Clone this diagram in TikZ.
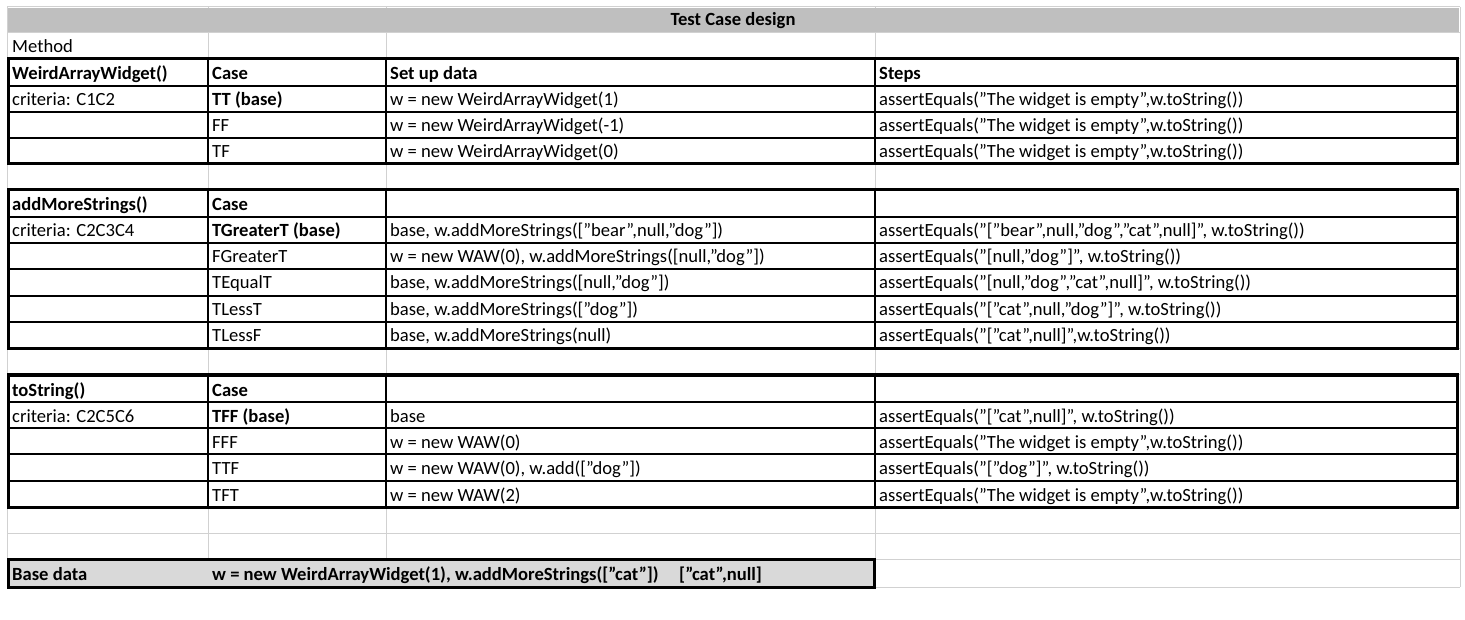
\documentclass[tikz,border=0pt]{standalone}
\usepackage{fontspec}
\setmainfont{Carlito}[Ligatures=ResetAll]
\newcommand{\qq}{\char34\relax}
\begin{document}
\begin{tikzpicture}[x=1pt,y=-1pt,
  cell/.style={anchor=base west,inner sep=0pt,yshift=-6pt,font=\fontsize{18.6}{20}\selectfont},
  bcell/.style={cell,font=\fontsize{18.6}{20}\selectfont\bfseries},
  grid/.style={draw=black!18,line width=1pt},
  thin/.style={draw=black,line width=1.4pt},
  thick/.style={draw=black,line width=3pt}]
\useasboundingbox (0,0) rectangle (1465,620);
% gray grid
\foreach \y in {7,33,59,164,190,349,375,507,533,559,587} \draw[grid] (7,\y) -- (1460,\y);
\foreach \x in {7,208,386,875,1460} \draw[grid] (\x,7) -- (\x,587);
\fill[black!25] (8,8) rectangle (1459,32);
\node[bcell,anchor=base] (title) at (733,20) {Test Case design};
\node[cell] (meth) at (12,47) {Method};
% box 1
\foreach \y in {86,112,138} \draw[thin] (8,\y) -- (1457,\y);
\foreach \x in {208,386,875} \draw[thin] (\x,59) -- (\x,164);
\draw[thick] (8,59) rectangle (1457,164);
% box 2
\foreach \y in {217,243,269,296,322} \draw[thin] (8,\y) -- (1457,\y);
\draw[draw=black,line width=2pt] (8,296) -- (1457,296);
\foreach \x in {208,386,875} \draw[thin] (\x,190) -- (\x,349);
\draw[thick] (8,190) rectangle (1457,349);
% box 3
\foreach \y in {402,428,454,481} \draw[thin] (8,\y) -- (1457,\y);
\foreach \x in {208,386,875} \draw[thin] (\x,375) -- (\x,507);
\draw[thick] (8,375) rectangle (1457,507);
% base
\fill[black!15] (8,559) rectangle (874,587);
\draw[thick] (8,559) rectangle (874,587);
% texts box 1
\node[bcell] (h1a) at (12,74) {WeirdArrayWidget()};
\node[bcell] (h1b) at (212,74) {Case};
\node[bcell] (h1c) at (390,74) {Set up data};
\node[bcell] (h1d) at (879,74) {Steps};
\node[cell] (c1) at (12,100) {criteria: C1C2};
\node[bcell] (r1a) at (212,100) {TT (base)};
\node[cell] (r1b) at (390,100) {w = new WeirdArrayWidget(1)};
\node[cell] (r1c) at (879,100) {assertEquals(\qq The widget is empty\qq,w.toString())};
\node[cell] (r2a) at (212,126) {FF};
\node[cell] (r2b) at (390,126) {w = new WeirdArrayWidget(-1)};
\node[cell] (r2c) at (879,126) {assertEquals(\qq The widget is empty\qq,w.toString())};
\node[cell] (r3a) at (212,152) {TF};
\node[cell] (r3b) at (390,152) {w = new WeirdArrayWidget(0)};
\node[cell] (r3c) at (879,152) {assertEquals(\qq The widget is empty\qq,w.toString())};
% box 2
\node[bcell] (h2a) at (12,205) {addMoreStrings()};
\node[bcell] (h2b) at (212,205) {Case};
\node[cell] (c2) at (12,231) {criteria: C2C3C4};
\node[bcell] (s1a) at (212,231) {TGreaterT (base)};
\node[cell] (s1b) at (390,231) {base, w.addMoreStrings([\qq bear\qq,null,\qq dog\qq])};
\node[cell] (s1c) at (879,231) {assertEquals(\qq[\qq bear\qq,null,\qq dog\qq,\qq cat\qq,null]\qq, w.toString())};
\node[cell] (s2a) at (212,257) {FGreaterT};
\node[cell] (s2b) at (390,257) {w = new WAW(0), w.addMoreStrings([null,\qq dog\qq])};
\node[cell] (s2c) at (879,257) {assertEquals(\qq[null,\qq dog\qq]\qq, w.toString())};
\node[cell] (s3a) at (212,283) {TEqualT};
\node[cell] (s3b) at (390,283) {base, w.addMoreStrings([null,\qq dog\qq])};
\node[cell] (s3c) at (879,283) {assertEquals(\qq[null,\qq dog\qq,\qq cat\qq,null]\qq, w.toString())};
\node[cell] (s4a) at (212,310) {TLessT};
\node[cell] (s4b) at (390,310) {base, w.addMoreStrings([\qq dog\qq])};
\node[cell] (s4c) at (879,310) {assertEquals(\qq[\qq cat\qq,null,\qq dog\qq]\qq, w.toString())};
\node[cell] (s5a) at (212,336) {TLessF};
\node[cell] (s5b) at (390,336) {base, w.addMoreStrings(null)};
\node[cell] (s5c) at (879,336) {assertEquals(\qq[\qq cat\qq,null]\qq,w.toString())};
% box 3
\node[bcell] (h3a) at (12,390) {toString()};
\node[bcell] (h3b) at (212,390) {Case};
\node[cell] (c3) at (12,416) {criteria: C2C5C6};
\node[bcell] (t1a) at (212,416) {TFF (base)};
\node[cell] (t1b) at (390,416) {base};
\node[cell] (t1c) at (879,416) {assertEquals(\qq[\qq cat\qq,null]\qq, w.toString())};
\node[cell] (t2a) at (212,442) {FFF};
\node[cell] (t2b) at (390,442) {w = new WAW(0)};
\node[cell] (t2c) at (879,442) {assertEquals(\qq The widget is empty\qq,w.toString())};
\node[cell] (t3a) at (212,468) {TTF};
\node[cell] (t3b) at (390,468) {w = new WAW(0), w.add([\qq dog\qq])};
\node[cell] (t3c) at (879,468) {assertEquals(\qq[\qq dog\qq]\qq, w.toString())};
\node[cell] (t4a) at (212,495) {TFT};
\node[cell] (t4b) at (390,495) {w = new WAW(2)};
\node[cell] (t4c) at (879,495) {assertEquals(\qq The widget is empty\qq,w.toString())};
% base
\node[bcell] (bd) at (12,574) {Base data};
\node[bcell] (bv) at (212,574) {w = new WeirdArrayWidget(1), w.addMoreStrings([\qq cat\qq])\hspace{1.1em}[\qq cat\qq,null]};
\end{tikzpicture}
\end{document}
